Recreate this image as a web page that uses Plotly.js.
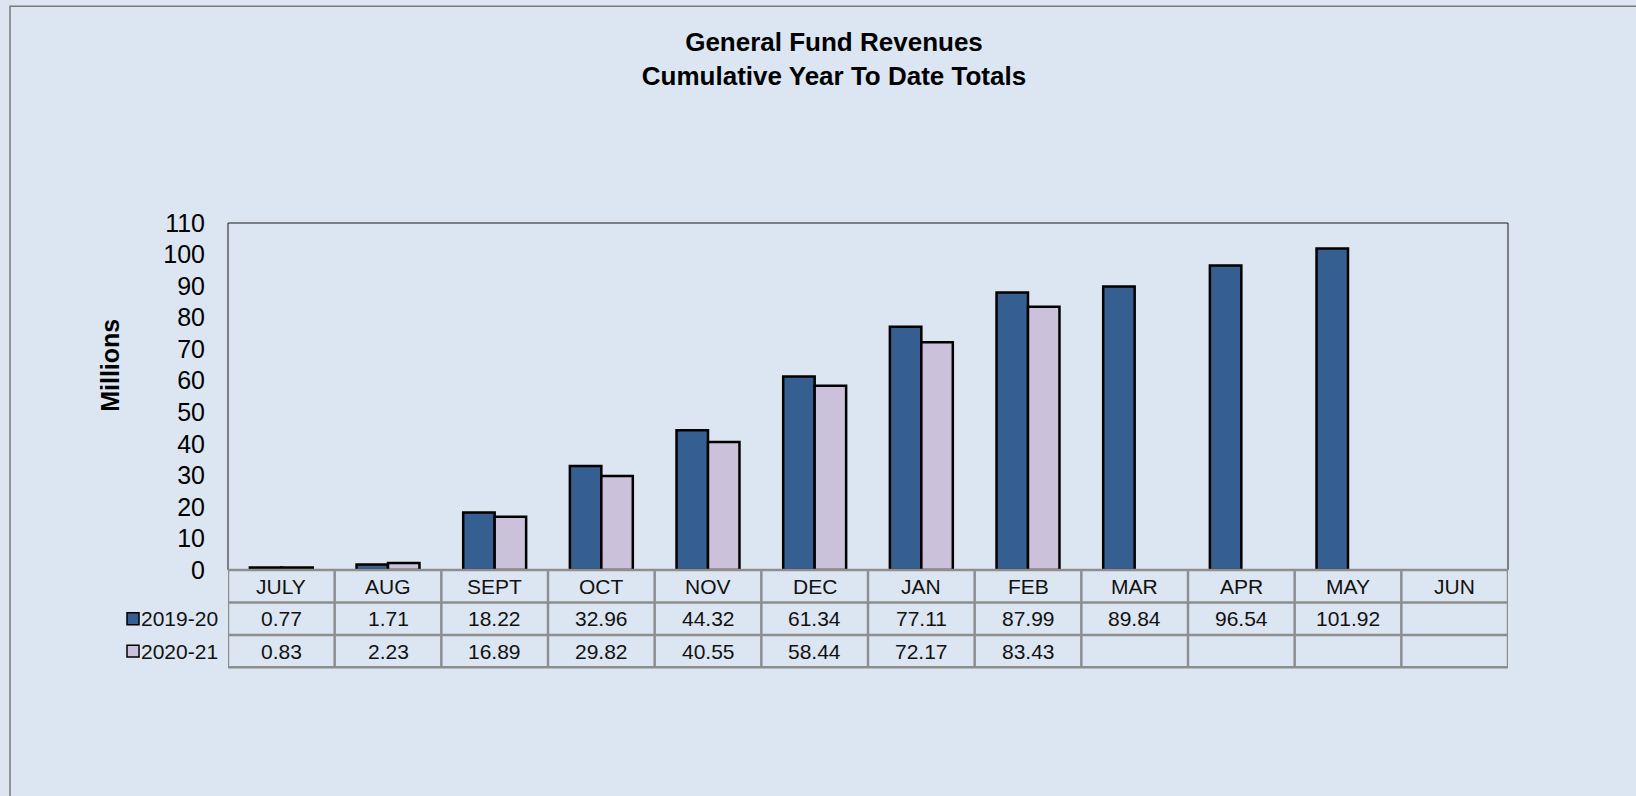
<!DOCTYPE html>
<html>
<head>
<meta charset="utf-8">
<script src="https://cdn.plot.ly/plotly-3.0.1.min.js"></script>
<style>
  html, body { margin: 0; padding: 0; background: #DCE6F2; }
  #chart { width: 1636px; height: 796px; }
</style>
</head>
<body>
<div id="chart"></div>
<script>
// ---- data ----
const months = ["JULY", "AUG", "SEPT", "OCT", "NOV", "DEC", "JAN", "FEB", "MAR", "APR", "MAY", "JUN"];
const seriesNames = ["2019-20", "2020-21"];
const fy2019_20 = [0.77, 1.71, 18.22, 32.96, 44.32, 61.34, 77.11, 87.99, 89.84, 96.54, 101.92, null];
const fy2020_21 = [0.83, 2.23, 16.89, 29.82, 40.55, 58.44, 72.17, 83.43, null, null, null, null];
const seriesColors = ["#365F91", "#CCC1DA"];
const titleText = "General Fund Revenues<br>Cumulative Year To Date Totals";
const yTitle = "Millions";

// ---- layout geometry ----
const W = 1636, H = 796;
const M = { l: 228, r: 128, t: 223, b: 225.5 };
const PW = W - M.l - M.r;          // plot width in px
const PH = H - M.t - M.b;          // plot height in px
const rowH = 32.5;                 // table row height px
const nCols = months.length;
const colW = PW / nCols;
const legendLeftPx = 120;          // left edge of table legend column
const legendX0 = (legendLeftPx - M.l) / colW - 0.5; // in x-axis units
const fontFam = "'Liberation Sans', Arial, sans-serif";
const gridCol = "#8E8E8E";

const pyRow = (k) => -(k * rowH) / PH;           // paper y of table line k
const pyRowMid = (k) => -((k + 0.5) * rowH) / PH; // paper y of row k center

const traces = [fy2019_20, fy2020_21].map((vals, i) => ({
  type: "bar",
  x: months,
  y: vals,
  name: seriesNames[i],
  marker: { color: seriesColors[i], line: { color: "#000000", width: 2.5 } },
  showlegend: false,
  hoverinfo: "x+y+name"
}));

const shapes = [];
const annotations = [];

// plot frame
shapes.push({ type: "rect", xref: "paper", yref: "paper", x0: 0, x1: 1, y0: 0, y1: 1,
  line: { color: "#1a1a1a", width: 1 }, layer: "above" });

// outer chart border (extends past right / bottom of view)
shapes.push({ type: "rect", xref: "paper", yref: "paper",
  x0: (10 - M.l) / PW, x1: (W + 60 - M.l) / PW,
  y0: -(H + 60 - (M.t + PH)) / PH, y1: (M.t + PH - 6) / PH,
  line: { color: "#7A7A7A", width: 1.5 }, layer: "above" });

// table horizontal lines
shapes.push({ type: "line", xref: "x", yref: "paper", x0: -0.5, x1: nCols - 0.5, y0: pyRow(0), y1: pyRow(0),
  line: { color: gridCol, width: 2.5 }, layer: "above" });
for (let k = 1; k <= 3; k++) {
  shapes.push({ type: "line", xref: "x", yref: "paper", x0: legendX0, x1: nCols - 0.5, y0: pyRow(k), y1: pyRow(k),
    line: { color: gridCol, width: 2.5 }, layer: "above" });
}
// table vertical lines
for (let i = 0; i <= nCols; i++) {
  shapes.push({ type: "line", xref: "x", yref: "paper", x0: i - 0.5, x1: i - 0.5, y0: pyRow(0), y1: pyRow(3),
    line: { color: gridCol, width: 2.5 }, layer: "above" });
}
shapes.push({ type: "line", xref: "x", yref: "paper", x0: legendX0, x1: legendX0, y0: pyRow(1), y1: pyRow(3),
  line: { color: gridCol, width: 2.5 }, layer: "above" });

// month header labels
months.forEach((m, i) => {
  annotations.push({ xref: "x", yref: "paper", x: i, y: pyRowMid(0), text: m, showarrow: false,
    xanchor: "center", yanchor: "middle", font: { family: fontFam, size: 21, color: "#111" } });
});

// value rows + legend keys
[fy2019_20, fy2020_21].forEach((vals, r) => {
  const yMid = pyRowMid(r + 1);
  vals.forEach((v, i) => {
    if (v === null) return;
    annotations.push({ xref: "x", yref: "paper", x: i, y: yMid, text: v.toFixed(2), showarrow: false,
      xanchor: "center", yanchor: "middle", font: { family: fontFam, size: 21, color: "#111" } });
  });
  // legend key square
  const ymidPx = (r + 1.5) * rowH;
  shapes.push({ type: "rect", xref: "paper", yref: "paper",
    x0: (127 - M.l) / PW, x1: (139 - M.l) / PW,
    y0: -(ymidPx + 6) / PH, y1: -(ymidPx - 6) / PH,
    fillcolor: seriesColors[r], line: { color: "#000", width: 1.5 }, layer: "above" });
  annotations.push({ xref: "paper", yref: "paper", x: (139 - M.l) / PW, y: yMid, text: seriesNames[r],
    showarrow: false, xanchor: "left", yanchor: "middle", font: { family: fontFam, size: 21, color: "#111" } });
});

// y axis title
annotations.push({ xref: "paper", yref: "paper", x: (110 - M.l) / PW, y: (M.t + PH - 366) / PH,
  text: "<b>" + yTitle + "</b>", textangle: -90, showarrow: false, xanchor: "center", yanchor: "middle",
  font: { family: fontFam, size: 25, color: "#000" } });

const layout = {
  width: W, height: H,
  margin: M,
  paper_bgcolor: "#DCE6F2",
  plot_bgcolor: "#DCE6F2",
  font: { family: fontFam, color: "#000" },
  title: {
    text: "<b>" + titleText + "</b>",
    x: 834 / W, xanchor: "center", xref: "container",
    y: 1 - 51 / H, yanchor: "top", yref: "container",
    pad: { t: 0, b: 0 },
    font: { family: fontFam, size: 26, color: "#000" }
  },
  barmode: "group",
  bargap: 0.41,
  bargroupgap: 0,
  xaxis: {
    type: "category",
    range: [-0.5, nCols - 0.5],
    showticklabels: false, ticks: "", showgrid: false, zeroline: false, showline: false,
    fixedrange: true
  },
  yaxis: {
    range: [0, 110], dtick: 10, tick0: 0,
    showgrid: false, zeroline: false, showline: false, ticks: "",
    ticklabelstandoff: 22,
    tickfont: { family: fontFam, size: 25, color: "#000" },
    fixedrange: true
  },
  shapes: shapes,
  annotations: annotations
};

Plotly.newPlot("chart", traces, layout, { displayModeBar: false, staticPlot: true });
</script>
</body>
</html>
